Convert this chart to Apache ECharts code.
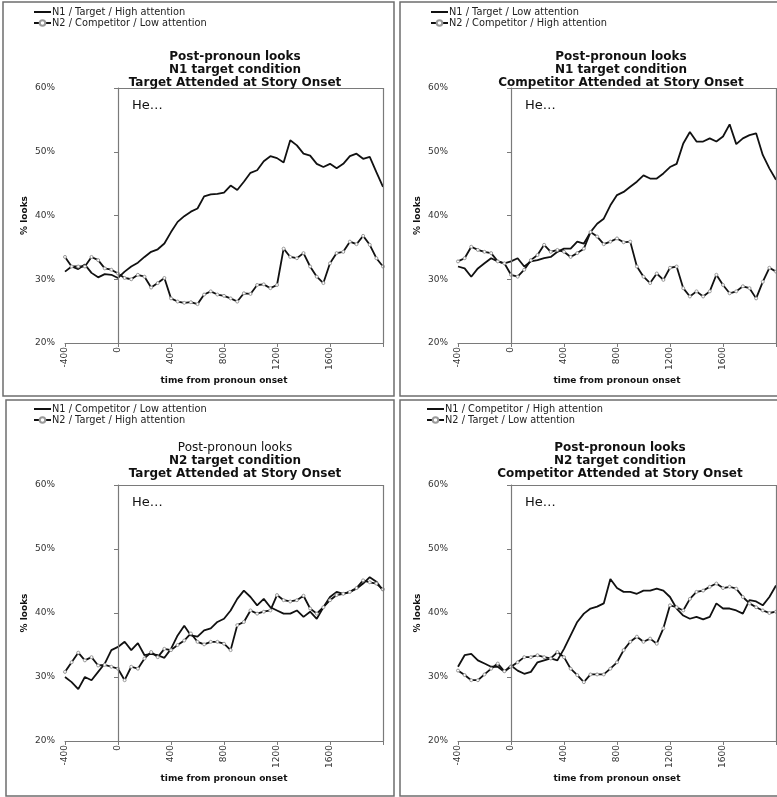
<!DOCTYPE html>
<html>
<head>
<meta charset="utf-8">
<script src="https://cdn.jsdelivr.net/npm/echarts@6/dist/echarts.min.js"></script>
<style>
  html, body { margin: 0; padding: 0; background: #fff; }
  #chart { width: 777px; height: 797px; }
</style>
</head>
<body>
<div id="chart"></div>
<script>
  // time bins (ms from pronoun onset)
  var timeMs = [-400, -350, -300, -250, -200, -150, -100, -50, 0, 50, 100, 150, 200, 250, 300, 350,
    400, 450, 500, 550, 600, 650, 700, 750, 800, 850, 900, 950, 1000, 1050, 1100, 1150, 1200,
    1250, 1300, 1350, 1400, 1450, 1500, 1550, 1600, 1650, 1700, 1750, 1800, 1850, 1900, 1950, 2000]

  // N1 target condition, target attended at onset
  var p1N1 = [31.2, 32.0, 31.6, 32.3, 31.0, 30.3, 30.8, 30.7, 30.2, 31.2, 32.0, 32.6, 33.5, 34.3, 34.7, 35.6,
    37.4, 39.0, 39.9, 40.6, 41.1, 43.0, 43.3, 43.4, 43.6, 44.7, 44.0, 45.3, 46.7, 47.1, 48.5, 49.3, 49.0,
    48.3, 51.8, 51.0, 49.7, 49.4, 48.1, 47.6, 48.1, 47.4, 48.1, 49.3, 49.7, 48.9, 49.2, 46.8, 44.5]
  var p1N2 = [33.5, 32.0, 32.0, 32.0, 33.5, 33.0, 31.7, 31.5, 30.9, 30.2, 30.0, 30.7, 30.4, 28.7, 29.4, 30.2,
    27.0, 26.5, 26.3, 26.4, 26.1, 27.6, 28.1, 27.6, 27.4, 27.0, 26.5, 27.8, 27.7, 29.1, 29.2, 28.6, 29.1,
    34.8, 33.5, 33.3, 34.1, 32.0, 30.4, 29.4, 32.5, 34.1, 34.3, 35.9, 35.5, 36.8, 35.4, 33.3, 32.0]
  // N1 target condition, competitor attended at onset
  var p2N1 = [32.0, 31.7, 30.4, 31.7, 32.5, 33.3, 32.8, 32.5, 32.8, 33.3, 32.0, 32.8, 33.0, 33.3, 33.5, 34.3,
    34.8, 34.8, 35.9, 35.6, 37.4, 38.7, 39.5, 41.6, 43.2, 43.7, 44.5, 45.3, 46.3, 45.8, 45.8, 46.6, 47.6,
    48.1, 51.3, 53.1, 51.6, 51.6, 52.1, 51.6, 52.4, 54.3, 51.2, 52.1, 52.6, 52.9, 49.5, 47.4, 45.6]
  var p2N2 = [32.8, 33.3, 35.1, 34.6, 34.3, 34.1, 32.8, 32.5, 30.7, 30.4, 31.5, 33.0, 33.8, 35.4, 34.3, 34.6,
    34.3, 33.5, 34.1, 34.8, 37.4, 36.7, 35.5, 35.9, 36.4, 35.8, 35.9, 32.0, 30.4, 29.4, 30.9, 29.9, 31.8,
    32.0, 28.6, 27.3, 28.1, 27.3, 28.1, 30.7, 29.1, 27.8, 28.1, 28.9, 28.6, 27.0, 29.6, 31.8, 31.2]
  // N2 target condition, target attended at onset
  var p3N1 = [30.0, 29.2, 28.1, 30.0, 29.5, 30.8, 32.1, 34.2, 34.7, 35.5, 34.2, 35.3, 33.4, 33.6, 33.4, 33.0,
    34.4, 36.5, 38.0, 36.5, 36.3, 37.3, 37.6, 38.6, 39.1, 40.4, 42.2, 43.5, 42.5, 41.2, 42.2, 40.9, 40.4,
    39.9, 39.9, 40.4, 39.4, 40.2, 39.1, 40.9, 42.5, 43.3, 43.0, 43.3, 43.8, 44.6, 45.6, 44.9, 43.5]
  var p3N2 = [30.8, 32.3, 33.8, 32.6, 33.1, 31.8, 31.9, 31.6, 31.3, 29.5, 31.6, 31.3, 32.9, 33.9, 33.1, 34.4,
    34.2, 35.0, 35.7, 36.8, 35.5, 35.1, 35.5, 35.5, 35.2, 34.2, 38.1, 38.6, 40.4, 39.9, 40.2, 40.4, 42.8,
    42.0, 41.8, 42.0, 42.7, 40.7, 39.9, 40.9, 42.0, 42.8, 43.0, 43.3, 43.9, 45.1, 44.8, 44.6, 43.7]
  // N2 target condition, competitor attended at onset
  var p4N1 = [31.6, 33.4, 33.6, 32.6, 32.1, 31.6, 31.6, 30.8, 31.8, 31.0, 30.5, 30.8, 32.3, 32.6, 32.9, 32.6,
    34.4, 36.5, 38.6, 39.9, 40.7, 41.0, 41.5, 45.3, 43.9, 43.3, 43.3, 43.0, 43.5, 43.5, 43.8, 43.5, 42.5,
    40.7, 39.6, 39.1, 39.4, 39.0, 39.4, 41.5, 40.7, 40.7, 40.4, 39.9, 42.0, 41.8, 41.2, 42.5, 44.3]
  var p4N2 = [31.0, 30.3, 29.5, 29.5, 30.4, 31.3, 32.1, 30.9, 31.6, 32.3, 33.1, 33.1, 33.4, 33.1, 32.9, 33.9,
    33.1, 31.3, 30.3, 29.2, 30.4, 30.4, 30.4, 31.3, 32.3, 34.2, 35.5, 36.3, 35.5, 36.0, 35.2, 37.6, 41.2,
    40.9, 40.4, 42.2, 43.3, 43.5, 44.1, 44.6, 43.9, 44.1, 43.8, 42.5, 41.5, 40.9, 40.4, 40.0, 40.2]

  var n1Names = ['N1 / Target / High attention', 'N1 / Target / Low attention',
    'N1 / Competitor / Low attention', 'N1 / Competitor / High attention']
  var n2Names = ['N2 / Competitor / Low attention', 'N2 / Competitor / High attention',
    'N2 / Target / High attention', 'N2 / Target / Low attention']
  var conditions = ['N1 target condition', 'N1 target condition', 'N2 target condition', 'N2 target condition']
  var onsets = ['Target Attended at Story Onset', 'Competitor Attended at Story Onset',
    'Target Attended at Story Onset', 'Competitor Attended at Story Onset']
  var yTicks = [20, 30, 40, 50, 60]
  var xTicks = [-400, 0, 400, 800, 1200, 1600]

  var FONT = 'DejaVu Sans'
  var AXIS = '#7a7a7a'

  // layout of the four boxes
  var panels = [
    {left: 65, top: 88, height: 255, titleY: 50, titleX: 235, legendX: 33, plainFirst: false, n1: p1N1, n2: p1N2},
    {left: 458, top: 88, height: 255, titleY: 50, titleX: 621, legendX: 430, plainFirst: false, n1: p2N1, n2: p2N2},
    {left: 65, top: 485, height: 256, titleY: 441, titleX: 235, legendX: 33, plainFirst: true, n1: p3N1, n2: p3N2},
    {left: 458, top: 485, height: 256, titleY: 441, titleX: 620, legendX: 426, plainFirst: false, n1: p4N1, n2: p4N2}
  ]

  function pairs (vals) {
    return timeMs.map(function (t, k) { return [t, vals[k]] })
  }

  var grids = []
  var xAxes = []
  var yAxes = []
  var series = []
  var legends = []
  var titles = []

  panels.forEach(function (p, i) {
    grids.push({left: p.left, top: p.top, width: 318, height: p.height})
    xAxes.push({
      type: 'value', gridIndex: i, min: -400, max: 2000, interval: 400,
      name: 'time from pronoun onset', nameLocation: 'middle', nameGap: 33,
      nameTextStyle: {fontFamily: FONT, fontSize: 9, fontWeight: 'bold', color: '#111'},
      axisLine: {show: true, lineStyle: {color: AXIS, width: 1}},
      axisTick: {show: true, length: 4, lineStyle: {color: AXIS}},
      axisLabel: {
        rotate: 90, margin: 4, fontFamily: FONT, fontSize: 9, color: '#333',
        formatter: function (v) { return xTicks.indexOf(v) >= 0 ? String(v) : '' }
      },
      splitLine: {show: false}
    })
    yAxes.push({
      type: 'value', gridIndex: i, min: yTicks[0], max: yTicks[yTicks.length - 1], interval: 10,
      name: '% looks', nameLocation: 'middle', nameGap: 36,
      nameTextStyle: {fontFamily: FONT, fontSize: 9, fontWeight: 'bold', color: '#111'},
      axisLine: {show: true, lineStyle: {color: AXIS, width: 1}},
      axisTick: {show: true, length: 4, lineStyle: {color: AXIS}},
      axisLabel: {formatter: '{value}%', margin: 10, fontFamily: FONT, fontSize: 9, color: '#333'},
      splitLine: {show: false}
    })
    series.push({
      type: 'line', name: n1Names[i], xAxisIndex: i, yAxisIndex: i,
      data: pairs(p.n1), symbol: 'none', showSymbol: false,
      lineStyle: {color: '#111', width: 1.8},
      // transparent so the legend shows a plain line
      itemStyle: {color: 'rgba(0,0,0,0)', borderWidth: 0},
      markLine: {
        silent: true, symbol: 'none', label: {show: false},
        lineStyle: {color: AXIS, width: 1.2, type: 'solid'},
        data: [
          [{coord: [0, 20]}, {coord: [0, 60]}],
          [{coord: [0, 60]}, {coord: [2000, 60]}],
          [{coord: [2000, 20]}, {coord: [2000, 60]}]
        ]
      },
      markPoint: {
        silent: true, symbol: 'circle', symbolSize: 0,
        data: [{coord: [106, 57.3]}],
        label: {
          show: true, position: 'right', distance: 0, formatter: 'He…',
          fontFamily: FONT, fontSize: 13, color: '#111'
        }
      }
    })
    series.push({
      type: 'line', name: n2Names[i], xAxisIndex: i, yAxisIndex: i,
      data: pairs(p.n2), symbol: 'circle', symbolSize: 3, showSymbol: true,
      lineStyle: {color: '#111', width: 1.8},
      itemStyle: {color: '#fff', borderColor: '#999', borderWidth: 1}
    })
    legends.push({
      left: p.legendX, top: p.top - 81, orient: 'vertical', padding: 0,
      itemGap: 1, itemWidth: 17, itemHeight: 7, selectedMode: false,
      data: [n1Names[i], n2Names[i]],
      textStyle: {fontFamily: FONT, fontSize: 9.8, color: '#222', padding: [0, 0, 0, -4]}
    })
    titles.push({
      left: p.titleX, top: p.titleY, textAlign: 'center', padding: 0,
      text: (p.plainFirst ? '{r|Post-pronoun looks}' : '{b|Post-pronoun looks}') +
        '\n{b|' + conditions[i] + '}\n{b|' + onsets[i] + '}',
      textStyle: {
        fontFamily: FONT, fontSize: 12, lineHeight: 13, color: '#111',
        rich: {
          r: {fontFamily: FONT, fontSize: 12, lineHeight: 13, fontWeight: 'normal', color: '#111'},
          b: {fontFamily: FONT, fontSize: 12, lineHeight: 13, fontWeight: 'bold', color: '#111'}
        }
      }
    })
  })

  // panel frames
  var frameStyle = {fill: 'none', stroke: '#6e6e6e', lineWidth: 1.5}
  var frames = [
    {type: 'rect', shape: {x: 3, y: 2, width: 391, height: 394}, style: frameStyle, silent: true},
    {type: 'rect', shape: {x: 400, y: 2, width: 390, height: 394}, style: frameStyle, silent: true},
    {type: 'rect', shape: {x: 6, y: 400, width: 388, height: 396}, style: frameStyle, silent: true},
    {type: 'rect', shape: {x: 400, y: 400, width: 390, height: 396}, style: frameStyle, silent: true}
  ]

  var chart = echarts.init(document.getElementById('chart'))
  var option = {
    animation: false,
    backgroundColor: '#fff',
    title: titles,
    legend: legends,
    grid: grids,
    xAxis: xAxes,
    yAxis: yAxes,
    series: series,
    graphic: frames
  }
  chart.setOption(option)
</script>
</body>
</html>
